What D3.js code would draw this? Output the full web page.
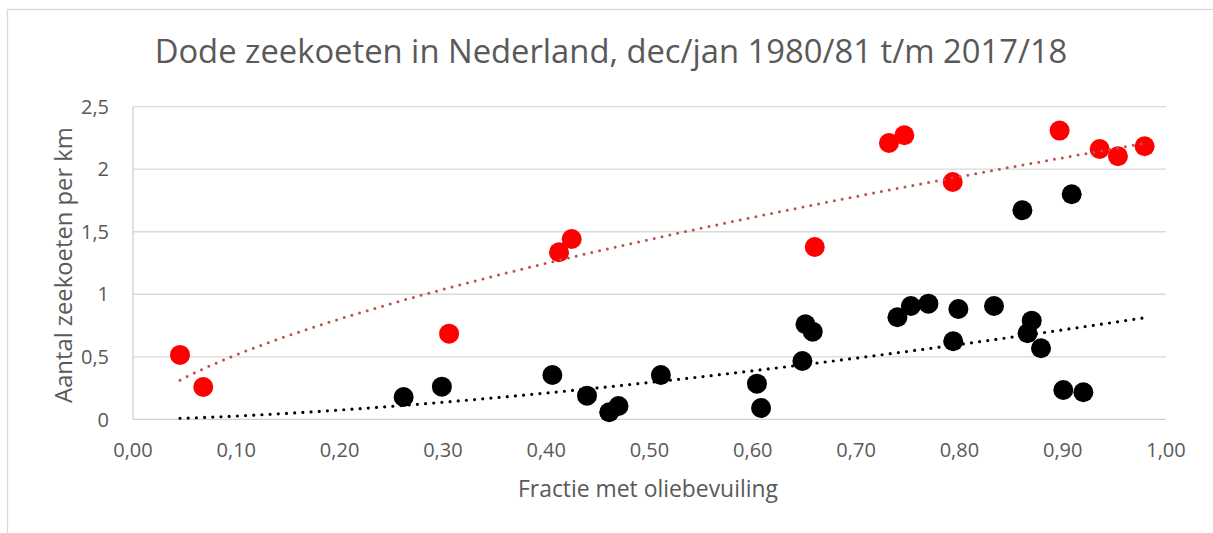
<!DOCTYPE html>
<html><head><meta charset="utf-8">
<script src="https://cdn.jsdelivr.net/npm/d3@7"></script>
<style>
body{margin:0;background:#fff}
svg{display:block}
text{font-family:"Open Sans",sans-serif;fill:#595959}
</style>
</head><body>
<svg id="c" width="1213" height="533"></svg>
<script>
const title = "Dode zeekoeten in Nederland, dec/jan 1980/81 t/m 2017/18";
const xTitle = "Fractie met oliebevuiling";
const yTitle = "Aantal zeekoeten per km";
const xTickValues = [0, 0.1, 0.2, 0.3, 0.4, 0.5, 0.6, 0.7, 0.8, 0.9, 1.0];
const xTickLabels = ["0,00","0,10","0,20","0,30","0,40","0,50","0,60","0,70","0,80","0,90","1,00"];
const yTickValues = [0, 0.5, 1, 1.5, 2, 2.5];
const yTickLabels = ["0","0,5","1","1,5","2","2,5"];

// red series
const redX = [0.0455, 0.068, 0.306, 0.4124, 0.4247, 0.660, 0.7318, 0.7467, 0.7935, 0.897, 0.9358, 0.9535, 0.9793];
const redY = [0.515, 0.258, 0.685, 1.336, 1.442, 1.378, 2.210, 2.272, 1.898, 2.309, 2.162, 2.104, 2.184];
// black series
const blackX = [0.262, 0.299, 0.406, 0.4395, 0.461, 0.470, 0.511, 0.604, 0.608, 0.648, 0.651, 0.658, 0.740, 0.753, 0.770, 0.799, 0.794, 0.8335, 0.861, 0.9087, 0.870, 0.866, 0.879, 0.9006, 0.920];
const blackY = [0.178, 0.261, 0.354, 0.189, 0.056, 0.106, 0.354, 0.285, 0.090, 0.466, 0.760, 0.701, 0.816, 0.906, 0.925, 0.882, 0.624, 0.906, 1.672, 1.800, 0.789, 0.688, 0.568, 0.234, 0.216];

const svg = d3.select("#c");
const L = 133, R = 1166, T = 106.7, B = 419.3;
const x = d3.scaleLinear().domain([0, 1]).range([L, R]);
const y = d3.scaleLinear().domain([0, 2.5]).range([B, T]);

// chart frame
svg.append("rect").attr("x", 7.5).attr("y", 9.5).attr("width", 1400).attr("height", 800)
  .attr("fill", "none").attr("stroke", "#D9D9D9").attr("stroke-width", 1.3);

function fit(sel, w) {
  const fs = parseFloat(sel.attr("font-size"));
  const len = sel.node().getComputedTextLength();
  sel.attr("font-size", fs * w / len);
}

// title
const t = svg.append("text").attr("x", 611).attr("y", 63).attr("text-anchor", "middle")
  .attr("font-size", 30).text(title);
fit(t, 913);

// gridlines
svg.append("g").selectAll("line").data(yTickValues.filter(v => v > 0)).join("line")
  .attr("x1", L).attr("x2", R).attr("y1", d => y(d)).attr("y2", d => y(d))
  .attr("stroke", "#D9D9D9").attr("stroke-width", 1.3);

// axes lines
svg.append("line").attr("x1", L).attr("x2", R).attr("y1", y(0)).attr("y2", y(0))
  .attr("stroke", "#D0D0D0").attr("stroke-width", 1.3);
svg.append("line").attr("x1", x(0)).attr("x2", x(0)).attr("y1", y(0)).attr("y2", y(2.5))
  .attr("stroke", "#D0D0D0").attr("stroke-width", 1.3);

// tick labels
svg.append("g").selectAll("text").data(xTickValues).join("text")
  .attr("x", d => x(d)).attr("y", 457).attr("text-anchor", "middle").attr("font-size", 20)
  .text((d, i) => xTickLabels[i]);
svg.append("g").selectAll("text").data(yTickValues).join("text")
  .attr("x", 109).attr("y", d => y(d)).attr("dy", "0.36em").attr("text-anchor", "end").attr("font-size", 20)
  .text((d, i) => yTickLabels[i]);

// axis titles
const xt = svg.append("text").attr("x", 648).attr("y", 497).attr("text-anchor", "middle")
  .attr("font-size", 20).text(xTitle);
fit(xt, 260);
const yt = svg.append("text").attr("transform", "translate(72,265) rotate(-90)").attr("text-anchor", "middle")
  .attr("font-size", 20).text(yTitle);
fit(yt, 276);

// points
const red = redX.map((v, i) => [v, redY[i]]);
const black = blackX.map((v, i) => [v, blackY[i]]);
svg.append("g").selectAll("circle").data(red).join("circle")
  .attr("cx", d => x(d[0])).attr("cy", d => y(d[1])).attr("r", 10).attr("fill", "#FF0000");
svg.append("g").selectAll("circle").data(black).join("circle")
  .attr("cx", d => x(d[0])).attr("cy", d => y(d[1])).attr("r", 10).attr("fill", "#000000");

// power trendlines (least squares in log-log space)
function powerFit(xs, ys) {
  const lx = xs.map(Math.log), ly = ys.map(Math.log);
  const mx = d3.mean(lx), my = d3.mean(ly);
  const b = d3.sum(lx, (v, i) => (v - mx) * (ly[i] - my)) / d3.sum(lx, v => (v - mx) ** 2);
  const a = Math.exp(my - b * mx);
  return xv => a * Math.pow(xv, b);
}
const allX = redX.concat(blackX);
const [x0, x1] = d3.extent(allX);
const samples = d3.range(0, 101).map(i => x0 + (x1 - x0) * i / 100);
const line = d3.line().x(d => x(d[0])).y(d => y(d[1]));
const fRed = powerFit(redX, redY), fBlack = powerFit(blackX, blackY);
svg.append("path").attr("d", line(samples.map(s => [s, fBlack(s)])))
  .attr("fill", "none").attr("stroke", "#000").attr("stroke-width", 3.2)
  .attr("stroke-linecap", "round").attr("stroke-dasharray", "0 8.2");
svg.append("path").attr("d", line(samples.map(s => [s, fRed(s)])))
  .attr("fill", "none").attr("stroke", "#C0504D").attr("stroke-width", 3)
  .attr("stroke-linecap", "round").attr("stroke-dasharray", "0 8");
</script>
</body></html>
